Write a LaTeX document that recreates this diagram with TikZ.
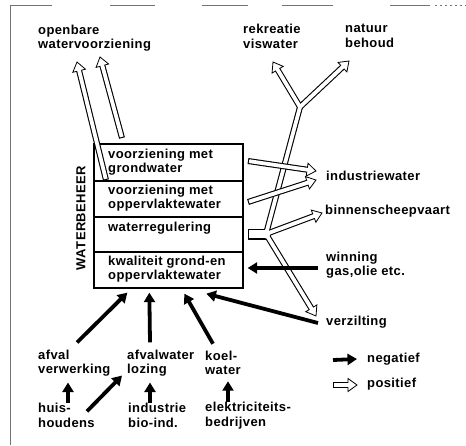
\documentclass[tikz,border=0pt]{standalone}
\usepackage{fontspec}
\setmainfont{Liberation Sans}
\newfontfamily\lblfont[LetterSpace=3]{Liberation Sans}
\usetikzlibrary{arrows.meta,calc}
% hollow (positive) arrow from #1 to tip #2
\newcommand\harrow[2]{%
  \path ($(#2)!9pt!(#1)$) coordinate (hh);
  \draw[line width=6pt] (#1) -- (hh);
  \filldraw[fill=white,draw=black,line width=0.8pt,line join=miter]
    ($(hh)!6.5pt!90:(#2)$) -- (#2) -- ($(hh)!6.5pt!-90:(#2)$) -- cycle;
  \draw[line width=3.8pt,white,shorten <=1.1pt] (#1) -- ($(hh)!1pt!(#2)$);
}
\begin{document}
\begin{tikzpicture}[x=1pt,y=-1pt,
  lbl/.style={font=\lblfont\bfseries\fontsize{13}{14.5}\selectfont, anchor=west, inner sep=0pt, align=left},
  rowbox/.style={draw, line width=1.3pt, minimum width=149pt, inner sep=0pt},
  neg/.style={line width=3.8pt, -{Triangle[length=9.5pt,width=11pt]}},
  frame/.style={draw=black!55, line width=0.9pt},
  pipeo/.style={line width=6pt, black},
  pipei/.style={line width=3.8pt, white},
  headst/.style={fill=white, draw=black, line width=0.8pt, line join=miter}]
\useasboundingbox (0,0) rectangle (466,445);
% scan frame
\draw[frame] (10,445) -- (10,235);
\draw[frame, dash pattern=on 6pt off 3pt] (10,270) -- (10,330);
\draw[frame] (10,360) -- (10,5) -- (52,5);
\draw[frame] (110,5) -- (155,5);
\draw[frame] (202,5) -- (248,5);
\draw[frame] (282,5) -- (333,5);
\draw[frame] (390,5) -- (430,5);
\draw[frame, dash pattern=on 2pt off 3pt] (435,5) -- (466,5);

% box
\node[rowbox, minimum height=37pt] (r1) at (168.5,162.5) {};
\node[rowbox, minimum height=36pt] (r2) at (168.5,199) {};
\node[rowbox, minimum height=35pt] (r3) at (168.5,234.5) {};
\node[rowbox, minimum height=36pt] (r4) at (168.5,270) {};
\node[lbl] (t1) at (108,162) {voorziening met\\grondwater};
\node[lbl] (t2) at (108,198) {voorziening met\\oppervlaktewater};
\node[lbl] (t3) at (108,228) {waterregulering};
\node[lbl] (t4) at (108,269) {kwaliteit grond-en\\oppervlaktewater};
\node[lbl, anchor=center, rotate=90] (wb) at (81,218) {WATERBEHEER};

% labels
\node[lbl] (op) at (38,38) {openbare\\watervoorziening};
\node[lbl] (rek) at (243,36.5) {rekreatie\\viswater};
\node[lbl] (nat) at (345,36) {natuur\\behoud};
\node[lbl] (ind) at (326,176) {industriewater};
\node[lbl] (bin) at (325,211) {binnenscheepvaart};
\node[lbl] (win) at (326,265) {winning\\gas,olie etc.};
\node[lbl] (verz) at (326,322) {verzilting};
\node[lbl] (afv) at (38,363) {afval\\verwerking};
\node[lbl] (loz) at (127,363) {afvalwater\\lozing};
\node[lbl] (koel) at (205,363) {koel-\\water};
\node[lbl] (huis) at (38,415.5) {huis-\\houdens};
\node[lbl] (indb) at (128,415.5) {industrie\\bio-ind.};
\node[lbl] (elek) at (205,415.5) {elektriciteits-\\bedrijven};
\node[lbl] (ng) at (367,359) {negatief};
\node[lbl] (ps) at (367,384) {positief};

% hollow network from waterregulering
\coordinate (S0) at (248,234);
\coordinate (J) at (266,234);
\coordinate (Y) at (300,107);
\coordinate (Trek) at (273,62);
\coordinate (Tnat) at (349,61);
\coordinate (Tbin) at (322,213);
\coordinate (Tver) at (316,316);
\path ($(Trek)!9pt!(Y)$) coordinate (Hrek);
\path ($(Tnat)!9pt!(Y)$) coordinate (Hnat);
\path ($(Tbin)!9pt!(J)$) coordinate (Hbin);
\path ($(Tver)!9pt!(J)$) coordinate (Hver);
% black layer
\draw[pipeo, line width=11pt] (S0) -- (J);
\fill (J) circle (5.5pt);
\draw[pipeo, line cap=round] (J) -- (Y);
\draw[pipeo, line cap=round] (Y) -- (Hrek);
\draw[pipeo, line cap=round] (Y) -- (Hnat);
\draw[pipeo, line cap=round] (J) -- (Hbin);
\draw[pipeo, line cap=round] (J) -- (Hver);
\foreach \t in {rek,nat,bin,ver} {
  \filldraw[headst]
    ($(H\t)!6.5pt!90:(T\t)$) -- (T\t) -- ($(H\t)!6.5pt!-90:(T\t)$) -- cycle;}
% white layer
\draw[pipei, line width=8.8pt, shorten <=1.1pt] (S0) -- (J);
\fill[white] (J) circle (4.4pt);
\draw[pipei, line cap=round] (J) -- (Y);
\foreach \t in {rek,nat} {\draw[pipei, line cap=round] (Y) -- ($(H\t)!1pt!(T\t)$);}
\foreach \t in {bin,ver} {\draw[pipei, line cap=round] (J) -- ($(H\t)!1pt!(T\t)$);}

% industriewater arrows
\coordinate (i1a) at (248,161);
\coordinate (i1b) at (316,171);
\coordinate (i2a) at (248,202);
\coordinate (i2b) at (316,180);
\harrow{i1a}{i1b}
\harrow{i2a}{i2b}
% openbare watervoorziening arrows
\coordinate (oa) at (106,180);
\coordinate (ob) at (77,62);
\coordinate (oc) at (122,138);
\coordinate (od) at (100,57);
\harrow{oa}{ob}
\harrow{oc}{od}

% negative arrows
\draw[neg] ([shift={(39,-7)}]afv.north west) -- ([shift={(34,4)}]r4.south west);
\draw[neg] ([shift={(23,-7)}]loz.north west) -- ([shift={(56,4)}]r4.south west);
\draw[neg] ([shift={(8,-7)}]koel.north west) -- ([shift={(91,5)}]r4.south west);
\draw[neg] ([shift={(-8,1)}]verz.west) -- ([shift={(113,5)}]r4.south west);
\draw[neg] ([shift={(-8,3)}]win.west) -- ([shift={(4,-2)}]r4.east);
\draw[neg] ([shift={(30,0)}]huis.north west) -- ([shift={(30,6)}]afv.south west);
\draw[neg] ([shift={(49,8)}]huis.north west) -- ([shift={(-5,-1)}]loz.south west);
\draw[neg] ([shift={(22,0)}]indb.north west) -- ([shift={(23,6)}]loz.south west);
\draw[neg] ([shift={(23,0)}]elek.north west) -- ([shift={(23,6)}]koel.south west);

% legend
\coordinate (lna) at (333,360);
\draw[neg] (lna) -- ([xshift=-10pt]ng.west);
\coordinate (lpa) at (333,385);
\coordinate (lpb) at (357,385);
\harrow{lpa}{lpb}
\end{tikzpicture}
\end{document}
